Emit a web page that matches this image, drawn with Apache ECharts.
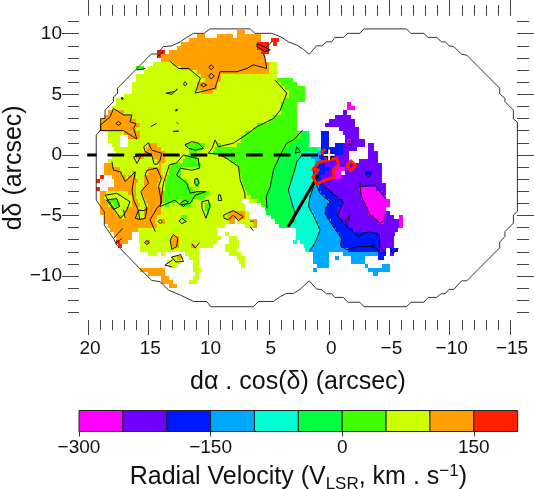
<!DOCTYPE html>
<html><head><meta charset="utf-8">
<script src="https://cdn.jsdelivr.net/npm/echarts@6/dist/echarts.min.js"></script>
<style>html,body{margin:0;padding:0;background:#fff}#c{width:534px;height:489px}</style></head>
<body><div id="c"></div>
<script>
// Velocity bins (km/s)
const levelEdges=[-300,-250,-200,-150,-100,-50,0,50,100,150,200];
const levelColors=['#ff00ff','#7000ff','#0018ff','#00a8ff','#00ffd0','#00ff40','#40ff00','#ccff00','#ffa000','#ff2000'];
const levelCodes='mpblcghyor';
// Map pixels: index grid of 1/3 arcsec. Each row: startColumn + bin code, "_" = no data.
const firstRow=5;
const velocityRows=[
"38o40_",
"28o30_33o37_38o44_",
"26o44_46.5r48.5_",
"24o43r46_47r48_",
"23o43r46_",
"18r20_21o44r46_",
"18r19o45_",
"19o45_",
"17y22o46y48_",
"13h15_16y24o46y48_",
"15y28o46y48_",
"13y29o34y48_",
"13y30o34y48h52_",
"12y28o33y49h53_",
"12y28o33y50h55_",
"12y29o32y51h55_",
"10y51h55_",
"8y50h55_",
"8y49h53_65.5m66.5_",
"7y49h53_65.5m67.5_",
"6o10y49h53_64.5p65.5_",
"5o12y47h53_62.5p66.5_",
"4o13y46h53_61p67.5_",
"4o14y43h53_60p67.5_",
"4o13y42h53_63.5p68.5_",
"6y10o14y40h54g56_59b61_64.5p68.5_",
"6y9_11o14y39h54g56_59b61_65p68.5_",
"6y9_11y39h52.5g56_59b61_65p65.5m66.5p70_",
"7y9_11y16o18y25h30y33h34y38h51g56_59b61_62.5b64.5p70_70.7p72_",
"7.5y15.5o19y26h29y32.5h50g58c59b64.5p68_70.7p72_",
"8y15o20y26h28y32h49.5g54c58l59b64.5p66_70.7p73_",
"7y13o15y17o20y25h28y35h48.7g53.3c56.5l58.5b62p66_70.7p73_",
"6y18o20y24.5h28.5y36.5h48g53c57.5l59b60p66_68.5p73_",
"5o7y18.5o19y21.5h29y38h48g53c57.5l58b60p74_",
"5o9y16o19y21h24y38.6h47.5g52.7c57b61p62m65p74_",
"5o9.5y12o13y16o19y21h24y38.8h47g52.4c57b60p62m64_65p70b71.5p74_",
"4r5_7o10.5y11o13y15o19.5y20.5h24y39h47g52c57b59p62m64p74_",
"3r4_7.5o13.5y15o18.5y20h25.5y27.5h28.5y39.2h46.5g51.5c57l57.8b59p74_",
"7.5o13y15o18y20h26y27.5h28.5y39.5h46.4g51c57.5l58.5b59.5p75_",
"3r4_6o13y14.5o19y20h27y40h46g50.7c57l58.5b60.5p68.5m72.5p75_",
"4o5.5y11o13y14.5o19.5h31y40.5h45.5g50.7c56.5l59b62p69m74p75_",
"4o5y12o13y15o19.5h30y41.5h45.3g51c56l60b63p69m75_",
"4o6y6.5h8.5y12o13.5y15.5o19.5h23y24h27y39_41y43h45.3g51.3c56l61b64.5p69.5m76_",
"4o6y7.5h9y12o14y16o19y20h21y24h26.5y30h31.5y40_44h45.4g51.7c56l60.5b64p70m76_",
"4o7.5y10.5o13.5y15o19y30h31y40_45g52c56l60b63p70.5m75_",
"4o8y10o13.5y15o19y30.5h31y36o40y41_45.3g52.5c57l60b63p70.5m75p76_",
"5o9.5y10.5o13.5y15o18y24h25.5y35.5o40y41_46.5g52.5c57.5l60.5b63.5p72m75p77_78.3m79.4_",
"5o17.5y19o20y36o37.5_38y42o43_47.5g52.7c58l61.5b64.5p73m74.5p78.3m79.4_",
"6o18y35_40y42o43_48.5g50.8c58.5l62b65.7p78.3m79.4_",
"6.5o13.5y33_52.8c58.7l62.7b67p78_",
"7.5o12_13.7y33_35y36_52.8c58.3l63.5b73p77.3_",
"8o12_13.7y21.5o23.5y34_36y38_52.8c58l64b73.5p77.2_",
"8r9o11_13.7y15.5o16.5y21.5o23.5y33_36y38.5_52c53_53.8c57.7l63.8b73.5p77.2_",
"8.5r9.5_14y21.5o23.5y26.5o27.5y32_35y38.5_54.6c57l63.8b73.5p77_",
"14y28.5_35y38_55c56l65.7b73.5p75_76b78_",
"16y18_19y20_25y28.5_36y39_57l61_64.5l73b75_76p77_",
"21.5y23o24y24.5_26y28.5_38y40_57l61_62.5l63.5_66.5l70_73b74.5_",
"20.5y24_27y28.5_38.5y40_57l61_66.5l70_",
"21y23_27y28.5_39y40_58l61_70l70.7_74l76_",
"14o20_27y29_57l58_70.7l76_",
"16o20_27.5y28.5_71.8l73_",
"19o21_27y28.5_",
"19o22_26y28_",
"21o23_"
];
// Contours, in the same grid units [column,row]
const contourLines=[
[[21.4,12.9],[23.5,14.6],[26,14.6],[28.9,17],[27.6,20.7],[32.6,19.5],[33.8,15.4],[38,15.4],[40.5,14.6],[42.1,13.7],[45.4,14.6],[45,12],[44.6,10.9]],
[[43,8.4],[46.3,10],[45,10.4],[43,9.2],[43,8.4]],[[45,9.6],[46.7,8]],
[[31,14.3],[31.6,13.7],[32.2,14.3],[31.6,14.9],[31,14.3]],[[31,16.5],[31.6,15.8],[32.4,16.5],[31.6,17.2],[31,16.5]],
[[24.7,18.4],[25.1,17.9],[25.6,18.4],[25.1,18.9],[24.7,18.4]],[[29,18.7],[29.7,18.3],[30.5,18.7],[29.7,19.1],[29,18.7]],
[[20.4,20.7],[22.6,20.3],[23.2,19.7],[21.8,21],[20.4,20.7]],
[[9.2,21.8],[9.7,21.9],[9.5,22.4],[9.2,21.8]],[[22.8,24.8],[23.3,24.8],[23.3,25.2],[22.8,25.2],[22.8,24.8]],[[23,27.9],[23.4,27.9],[23.4,28.3],[23,28.3],[23,27.9]],[[22.1,30.2],[23.5,30.1],[23.2,30.5],[22.1,30.2]],
[[16.6,29],[18,28.2]],[[13.1,15],[15.2,14.6]],[[18.1,11.8],[19.6,10.4]],
[[47.5,17.5],[50.4,20.7],[48.8,24.9],[47.1,27],[43,29],[39.6,31.5],[37.1,33.1],[33.4,34],[32.6,32.3],[31.8,34.4],[30.9,35.6],[33.4,35.8],[35.5,36.9],[38.4,38.9],[38.8,42.2],[40,45.5],[40,46.8]],
[[7.3,24.5],[9.8,26.1],[11.9,26.1],[11.4,27.8],[12.9,28.3],[12.3,29.4],[13.1,32.1],[9.8,30],[4.1,30],[4.1,28.6],[6.5,26.5],[7.3,24.5]],
[[7.9,28.2],[8.5,27.7],[9.2,28.2],[8.5,28.7],[7.9,28.2]],
[[14.8,34],[16,33],[16.8,34.8],[19.3,35.6],[18.9,37.3],[18.2,38.3],[17.4,38.3],[16.8,36],[15.2,35.2],[14.8,34]],
[[12.3,36.5],[14.3,36],[13.1,38.1],[12.3,36.5]],
[[25.1,33.5],[26.8,32.7],[28.4,33.1],[29.7,34.4],[27.6,34.8],[26,34.4],[25.1,33.5]],
[[24.7,36],[23,38],[21.2,38.5],[19.7,43],[18.9,48.8],[22.6,47.2],[23.9,48.4],[26.4,48],[27.6,46],[30.3,45.1],[28,45.1],[26.4,45.5],[25.5,43],[23,41],[23.9,39.3],[26.8,39.8],[28.7,39.3],[28.4,36.9],[26.4,36.5],[24.7,36]],
[[23.9,48],[25.1,47.2],[25.9,47.6],[24.7,48.8],[23.9,48]],
[[27.5,42],[28.2,41.8],[28.6,43],[28,43.7],[27.5,43],[27.5,42]],
[[29.3,47.6],[30.9,47.2],[31.3,48.8],[30.3,51.7],[29.3,49.2],[29.3,47.6]],
[[33.4,45.9],[33.9,45.9],[34.2,47.3],[33.4,47.3],[33.4,45.9]],
[[23.6,52.4],[24.3,51.7],[25.4,52.5],[24.3,53],[23.6,52.4]],
[[18.4,52.5],[18.9,52],[19.4,52.5],[18.9,53],[18.4,52.5]],[[15,57.7],[15.6,57.2],[16.2,57.7],[15.6,58.2],[15,57.7]],
[[21.4,57.1],[22.2,55.7],[23.3,56.7],[23,58.7],[21.8,59.4],[21.4,57.1]],
[[21.8,61.3],[24,60.7],[24.7,62.4],[22.8,62.5],[21.8,61.3]],[[22,62],[20.1,63.3],[21.8,63.7]],
[[26.8,58],[27.6,59.1],[28.7,57.7]],
[[34.7,50.9],[37.1,49.8],[39.6,51.3],[38.4,52.3],[37.1,50.9],[35.9,52.1],[34.8,51.7],[34.7,50.9]],
[[41.3,52.4],[42.1,52.4]],[[41.3,53.8],[42.1,54.8]],
[[6.9,37.7],[7.3,39.8],[9,40.2],[10.2,42.6],[12.7,40.2],[11.9,44.7],[12.3,47.2],[13.5,49.7],[12.7,51.7],[13.8,52]],
[[15.2,41],[15.6,39.8],[18.1,39.3],[19.2,41.8],[18.5,43.9],[19.3,48],[18.1,49.2],[16.4,52.1],[17.7,55]],
[[15.2,41],[16,43],[14.1,45.1],[15.6,49.2],[15.2,51.7],[13.8,52],[13.5,49.7],[15,49.8],[15.6,49.2]],
[[5.2,46],[8.1,45.5],[11.4,47.6],[10.6,49.6],[9.8,50.9],[9,51.7],[7.3,49.2],[5.2,46]],
[[5.6,47.2],[8.1,46.8],[8.8,48.8],[7.3,49.5],[5.6,47.2]],
[[7.3,56.7],[9.6,54.2]],[[7.7,57.9],[9.4,56.7]],[[9.8,49.6],[10.2,51.7]],
[[54.4,29.8],[52.1,32.3],[50.4,33.1],[48.8,36],[47.1,39.7],[46.3,43.9],[45.3,46.3],[45.5,49.2]],
[[52.9,34],[52.5,35.6],[53.8,35.2],[52.9,34]],
[[54.2,36],[52.9,37.7],[52.1,40.6],[50.8,44.7],[51.7,48],[52.5,50.5],[52.1,52.5],[50.8,53.8]],
[[57.4,43],[56.2,46.3],[55.8,48.8],[57,50.9],[58.7,54.6],[57.4,57.9],[56.2,59.7]],
[[57.8,43.4],[58.7,45.5],[61.2,47.6],[60.2,49.2],[59.9,50.5],[62,53.8],[64,56.6],[63.8,58.5],[65.3,59.5],[68.2,58.7],[71.9,58.7],[73.6,59.9]],
[[58.7,42.6],[60.3,44.3],[62.8,46.3],[64.5,47.6],[63,50.9],[64.5,52.9],[66.1,50.9],[65.7,52.5],[64.9,53.3],[68.2,56.2],[70.7,55],[73.4,55.8],[73.6,58.7],[75.1,60.5]],
[[70.5,56.3],[70.9,56.3],[70.9,56.7],[70.5,56.7],[70.5,56.3]],[[71.3,58.5],[71.8,58.1],[72.3,58.5],[71.8,58.9],[71.3,58.5]],
[[68.6,43],[68.6,43.9],[72.4,43.4],[75.1,47]],[[75.1,50.5],[74.4,52.5],[73.6,52.9],[71.1,50.9],[69,46.3],[68.6,43.9]],
[[70,40.8],[70.7,40.1],[71.4,40.8],[70.7,41.5],[70,40.8]],
[[68.6,43.1],[68.8,43.6]],
[[65.8,32.5],[66.8,32.6],[66.2,33.6],[65.8,32.5]],
[[76.1,59.1],[76.8,60.5],[78.2,59.1]]
];
const hotContours=[
[[60,34.6],[59.1,35.2],[60.8,37.3],[62.9,36.8],[63.3,38.5],[62,39.7],[62.2,41.5],[59.6,42.4],[57.9,43.2],[56.9,41.5],[58.3,39.7],[56.9,39.7],[58.3,37.9],[60.8,37.3]],
[[65.2,38.7],[66.4,37.5],[67.6,38.7],[66.4,39.9],[65.2,38.7]]
];
const fieldOutline=[[56,11.1],[57.8,9],[59.1,9],[60.3,8],[61.6,8],[62.4,6.9],[64.5,6.9],[65.6,5.9],[68.6,5.9],[69.6,4.8],[80.2,4.8],[81.3,5.9],[84.5,5.9],[85.6,6.9],[87.7,6.9],[88.9,8],[89.9,8],[90.8,9],[92,9.2],[93.9,11.1],[95.2,11.3],[103.4,19.5],[103.4,20.9],[104.7,22],[104.7,22.8],[106.8,24.9],[106.8,27.1],[107.8,27.9],[107.8,50],[106.8,50.9],[106.8,52.9],[104.7,55],[104.7,56.2],[103.4,57.6],[103.4,59],[95.2,67.2],[93.9,67.2],[92,69.3],[90.8,69.3],[89.8,70.4],[88.8,70.4],[87.7,71.3],[85.6,71.3],[84.5,72.5],[81.3,72.5],[80.2,73.6],[69.6,73.6],[68.6,72.5],[65.6,72.5],[64.5,71.3],[62.4,71.3],[61.6,70.4],[60.3,70.4],[59.1,69.4],[57.8,69.2],[56,67.2],[53.7,69.3],[52.1,70.3],[50.4,70.3],[48.8,71.1],[47.1,72.3],[43.4,72.3],[42.1,73.6],[31.5,73.6],[30.5,72.3],[27.2,72.3],[23.9,70.7],[21,69.5],[18.9,67.4],[16.8,67.1],[13.5,63.8],[8.1,58.3],[7.3,56.7],[5,53.4],[5,50.1],[3,47.2],[3,31.1],[4.1,29.8],[4.1,27],[5.2,27],[5.2,24.9],[7.3,22.8],[7.3,21.6],[8.3,20.8],[8.3,19.5],[16.7,11],[18.1,11],[19.7,9.2],[21.8,9],[23.9,8],[25.5,6.9],[27.2,5.9],[29.8,5.9],[31.3,4.8],[41.3,4.8],[42.5,5.9],[46.7,5.9],[49.2,6.9],[50.8,8],[52.9,8.8],[54.6,9.9],[56,11.1]];
// Overlay lines (arcsec)
const dashedAxis=[[20.07,0],[0,0]];
const slitLine=[[3.4,-5.93],[0.9,-1.66]];
const crossH=[[0.45,0],[-0.45,0]], crossV=[[0,0.45],[0,-0.45]];
// Axes
const xMajor=[20,15,10,5,0,-5,-10,-15];
const xMinor=[19,18,17,16,14,13,12,11,9,8,7,6,4,3,2,1,-1,-2,-3,-4,-6,-7,-8,-9,-11,-12,-13,-14];
const yMajor=[10,5,0,-5,-10];
const yMinor=[11,9,8,7,6,4,3,2,1,-1,-2,-3,-4,-6,-7,-8,-9,-11,-12,-13];
const barTicks=[-300,-150,0,150];

const colX=c=>20.32-c/3, rowY=r=>12-r/3;
const spans=[];
velocityRows.forEach((s,i)=>{
  const t=[...s.matchAll(/(\d+(?:\.\d+)?)([a-z_])/g)];
  t.forEach((m,k)=>{
    if(m[2]==='_'||k===t.length-1)return;
    spans.push([colX(+m[1]),colX(+t[k+1][1]),rowY(firstRow+i),rowY(firstRow+i+1),levelCodes.indexOf(m[2])]);
  });
});
const toArc=l=>l.map(p=>[colX(p[0]),rowY(p[1])]);
const FONT='"Liberation Sans",Arial,sans-serif', INK='#111', TICK='#444';
const minus=v=>String(v).replace('-','\u2212');
const lim={x:[-15.58,20.75],y:[-13.63,11.49]};
function xAx(pos,vals,len,extra){return Object.assign({type:'value',gridIndex:0,min:lim.x[0],max:lim.x[1],inverse:true,position:pos,
  axisLine:{show:false,onZero:false},splitLine:{show:false},axisTick:{show:true,length:len,customValues:vals,lineStyle:{color:TICK,width:1}},axisLabel:{show:false}},extra||{});}
function yAx(pos,vals,len,extra){return Object.assign({type:'value',gridIndex:0,min:lim.y[0],max:lim.y[1],position:pos,
  axisLine:{show:false,onZero:false},splitLine:{show:false},axisTick:{show:true,length:len,customValues:vals,lineStyle:{color:TICK,width:1}},axisLabel:{show:false}},extra||{});}
const lineS=(data,color,width,z,extra)=>Object.assign({type:'line',data,symbol:'none',silent:true,animation:false,z,clip:false,
  lineStyle:Object.assign({color,width,cap:'butt',join:'round'},extra||{})},{});
const series=[
 {type:'custom',coordinateSystem:'cartesian2d',silent:true,animation:false,z:2,data:spans,encode:{x:[0,1],y:[2,3]},
  renderItem(p,api){const a=api.coord([api.value(0),api.value(2)]),b=api.coord([api.value(1),api.value(3)]);
    return {type:'rect',shape:{x:Math.round(a[0]),y:Math.round(a[1]),width:Math.round(b[0])-Math.round(a[0]),height:Math.round(b[1])-Math.round(a[1])},style:{fill:levelColors[api.value(4)]}};}},
 lineS(toArc(fieldOutline),'#333',1,3),
 ...contourLines.map(l=>lineS(toArc(l),'#111',1,4)),
 lineS(dashedAxis,'#000',3,5,{type:[16.7,11],dashOffset:7.4}),
 lineS(slitLine,'#000',3,5),
 ...hotContours.map(l=>lineS(toArc(l),'#ff2000',3,6)),
 lineS(crossH,'#000',4,7),lineS(crossV,'#000',4,7),lineS(crossH,'#fff',2,8),lineS(crossV,'#fff',2,8),
 {type:'custom',coordinateSystem:'cartesian2d',xAxisIndex:4,yAxisIndex:4,silent:true,animation:false,z:3,
  data:levelColors.map((c,i)=>[levelEdges[i],levelEdges[i+1],i]),encode:{x:[0,1]},
  renderItem(p,api){const a=api.coord([api.value(0),1]),b=api.coord([api.value(1),0]);
    return {type:'rect',shape:{x:a[0],y:a[1],width:b[0]-a[0],height:b[1]-a[1]},style:{fill:levelColors[api.value(2)],stroke:'#222',lineWidth:1}};}}
];
const chart=echarts.init(document.getElementById('c'),null,{renderer:'canvas'});
chart.setOption({animation:false,backgroundColor:'#fff',
 textStyle:{fontFamily:FONT},
 grid:[{left:79,top:15.7,width:438,height:304.3,show:false,containLabel:false,outerBoundsMode:'none'},
       {left:79,top:410.5,width:438.7,height:21,show:false,containLabel:false,outerBoundsMode:'none'}],
 xAxis:[
  xAx('bottom',xMajor,15,{axisLabel:{show:true,customValues:xMajor,formatter:minus,fontFamily:FONT,fontSize:19,color:INK,margin:19,padding:[0,0,0,4]},
     name:'d\u03b1 . cos(\u03b4) (arcsec)',nameLocation:'middle',nameGap:50,nameTextStyle:{fontFamily:FONT,fontSize:25,color:INK}}),
  xAx('bottom',xMinor,10),xAx('top',xMajor,15.7),xAx('top',xMinor,10.7),
  {type:'value',gridIndex:1,min:-300,max:200,position:'bottom',axisLine:{show:false,onZero:false},splitLine:{show:false},
   axisTick:{show:true,length:5,customValues:barTicks,lineStyle:{color:'#333'}},
   axisLabel:{customValues:barTicks,formatter:minus,fontFamily:FONT,fontSize:19,color:INK,margin:7},
   name:'{a|Radial Velocity (V}{s|LSR}{a|, km . s}{u|\u22121}{a|)}',nameLocation:'middle',nameGap:31,
   nameTextStyle:{fontFamily:FONT,color:INK,rich:{a:{fontSize:25,fontFamily:FONT,color:INK,lineHeight:30},s:{fontSize:17,fontFamily:FONT,color:INK,verticalAlign:'bottom',lineHeight:30},u:{fontSize:17,fontFamily:FONT,color:INK,verticalAlign:'top',lineHeight:30}}}}
 ],
 yAxis:[
  yAx('left',yMajor,17,{axisLabel:{show:true,customValues:yMajor,formatter:minus,fontFamily:FONT,fontSize:19,color:INK,margin:17},
     name:'d\u03b4 (arcsec)',nameLocation:'middle',nameGap:52,nameRotate:90,nameMoveOverlap:false,nameTextStyle:{fontFamily:FONT,fontSize:25,color:INK}}),
  yAx('left',yMinor,11),yAx('right',yMajor,17),yAx('right',yMinor,12),
  {type:'value',gridIndex:1,min:0,max:1,show:false}
 ],
 series
});
</script></body></html>
